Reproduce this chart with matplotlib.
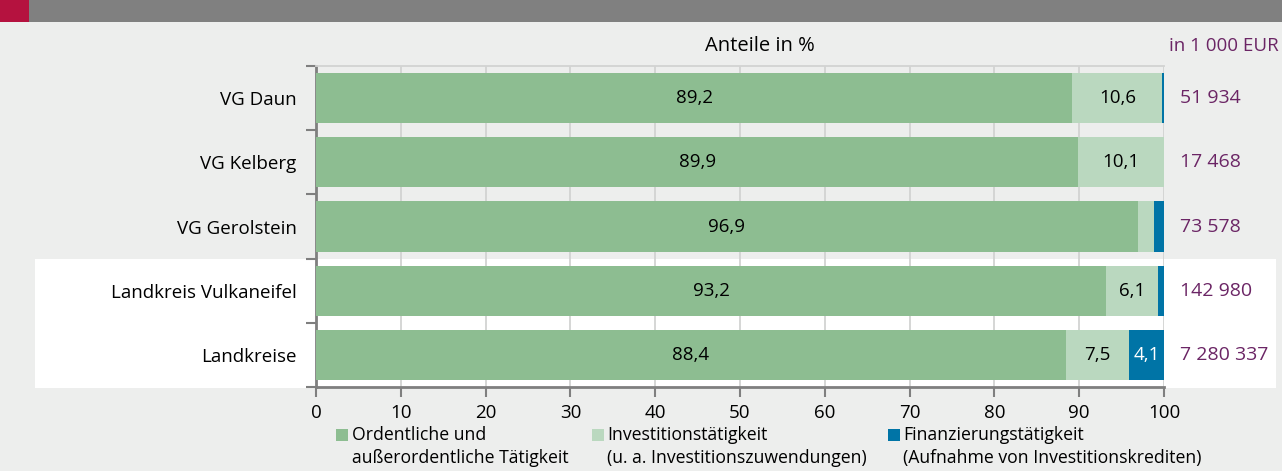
import matplotlib
matplotlib.use("Agg")
import matplotlib.pyplot as plt
from matplotlib.patches import Rectangle
import numpy as np

plt.rcParams['font.family'] = ['Open Sans', 'DejaVu Sans']

# Data
regions = ["VG Daun", "VG Kelberg", "VG Gerolstein", "Landkreis Vulkaneifel", "Landkreise"]
ordentlich = [89.2, 89.9, 96.9, 93.2, 88.4]
investition = [10.6, 10.1, 1.9, 6.1, 7.5]
finanzierung = [0.2, 0.0, 1.2, 0.7, 4.1]
totals = ["51 934", "17 468", "73 578", "142 980", "7 280 337"]
xticks = [0, 10, 20, 30, 40, 50, 60, 70, 80, 90, 100]
series_names = ["Ordentliche und\naußerordentliche Tätigkeit",
                "Investitionstätigkeit\n(u. a. Investitionszuwendungen)",
                "Finanzierungstätigkeit\n(Aufnahme von Investitionskrediten)"]

C_DARK = "#8dbd91"
C_LIGHT = "#bad8bf"
C_BLUE = "#0074a6"
C_PURPLE = "#6b2565"
BG = "#edeeed"
GRID = "#d2d3d2"
AXIS = "#7f7f7f"

W, H = 1282, 471
fig = plt.figure(figsize=(W / 100, H / 100), dpi=100, facecolor=BG)


def fx(px):
    return px / W


def fy(py):
    return 1 - py / H


# header band
fig.patches.append(Rectangle((0, fy(22)), 1, 22 / H, transform=fig.transFigure,
                             facecolor="#808080", edgecolor="none", zorder=0))
fig.patches.append(Rectangle((0, fy(22)), fx(29), 22 / H, transform=fig.transFigure,
                             facecolor="#b5123f", edgecolor="none", zorder=0.5))
# white highlight behind the district rows
fig.patches.append(Rectangle((fx(35), fy(388)), fx(1276 - 35), (388 - 259) / H,
                             transform=fig.transFigure, facecolor="white",
                             edgecolor="none", zorder=0))

left, right, top, bottom = 316, 1164, 66, 387
ax = fig.add_axes([fx(left), fy(bottom), fx(right - left), (bottom - top) / H])
ax.set_zorder(2)
ax.patch.set_alpha(0)

y = np.arange(len(regions))
h = 0.78
ord_arr = np.array(ordentlich)
inv_arr = np.array(investition)
fin_arr = np.array(finanzierung)
ax.barh(y, ord_arr, height=h, color=C_DARK, zorder=3)
ax.barh(y, inv_arr, left=ord_arr, height=h, color=C_LIGHT, zorder=3)
ax.barh(y, fin_arr, left=ord_arr + inv_arr, height=h, color=C_BLUE, zorder=3)

fs = 13.5
for i in range(len(regions)):
    ax.text(ord_arr[i] / 2, y[i], f"{ordentlich[i]:.1f}".replace(".", ","),
            ha="center", va="center", fontsize=fs, color="black", zorder=4)
    if inv_arr[i] >= 5:
        ax.text(ord_arr[i] + inv_arr[i] / 2, y[i], f"{investition[i]:.1f}".replace(".", ","),
                ha="center", va="center", fontsize=fs, color="black", zorder=4)
    if fin_arr[i] >= 3:
        ax.text(ord_arr[i] + inv_arr[i] + fin_arr[i] / 2, y[i],
                f"{finanzierung[i]:.1f}".replace(".", ","),
                ha="center", va="center", fontsize=fs, color="white", zorder=4)
    ax.text(1.0 + 16 / (right - left), y[i], totals[i], transform=ax.get_yaxis_transform(),
            ha="left", va="center", fontsize=14, color=C_PURPLE)

ax.set_xlim(0, 100)
ax.set_ylim(len(regions) - 0.5, -0.5)
ax.set_xticks(xticks)
ax.set_xticklabels([str(t) for t in xticks], fontsize=13.5)
ax.set_yticks(y)
ax.set_yticklabels(regions, fontsize=fs)
ax.set_yticks(np.arange(-0.5, len(regions)), minor=True)
ax.tick_params(axis="y", which="major", length=0, pad=14)
ax.tick_params(axis="y", which="minor", length=7, width=1.5, color=AXIS)
ax.tick_params(axis="x", length=7, width=1.5, color=AXIS, pad=5)

ax.grid(axis="x", color=GRID, linewidth=1.3, zorder=0)
for s in ["left", "bottom"]:
    ax.spines[s].set_color(AXIS)
    ax.spines[s].set_linewidth(2)
ax.spines["top"].set_color(GRID)
ax.spines["top"].set_linewidth(1.3)
ax.spines["right"].set_visible(False)

fig.text(fx(760), fy(46), "Anteile in %", ha="center", va="center", fontsize=14.5)
fig.text(fx(1279), fy(46), "in 1 000 EUR", ha="right", va="center", fontsize=13.5,
         color=C_PURPLE)

# legend
legend_items = [(336, 352, C_DARK), (592, 607, C_LIGHT), (888, 903, C_BLUE)]
for (sq_x, tx, col), name in zip(legend_items, series_names):
    fig.patches.append(Rectangle((fx(sq_x), fy(441)), fx(12), 12 / H,
                                 transform=fig.transFigure, facecolor=col,
                                 edgecolor="none"))
    l1, l2 = name.split("\n")
    fig.text(fx(tx), fy(435), l1, ha="left", va="center", fontsize=12.7)
    fig.text(fx(tx), fy(458), l2, ha="left", va="center", fontsize=12.7)

fig.savefig("out.png", dpi=100, facecolor=BG)
